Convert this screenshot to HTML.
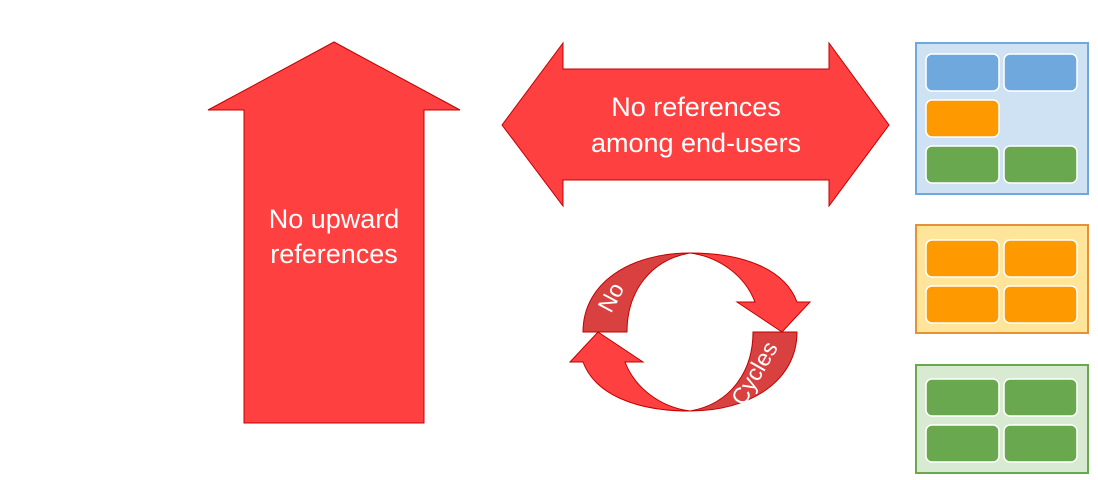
<!DOCTYPE html>
<html><head><style>body{margin:0;background:#fff}svg{display:block}text{font-family:"Liberation Sans",sans-serif;fill:#fff}</style></head>
<body>
<svg width="1098" height="480" viewBox="0 0 1098 480" xmlns="http://www.w3.org/2000/svg">
<polygon points="334,42 460,110 424,110 424,423 244,423 244,110 208,110" fill="#ff4040" stroke="#c00000" stroke-width="1"/>
<text x="334" y="228" font-size="27" text-anchor="middle">No upward</text>
<text x="334" y="263" font-size="27" text-anchor="middle">references</text>
<polygon points="502,125 563,43 563,69 829,69 829,43 889,125 829,206 829,180 563,180 563,206" fill="#ff4040" stroke="#c00000" stroke-width="1"/>
<text x="696" y="116" font-size="27" text-anchor="middle">No references</text>
<text x="696" y="152" font-size="27" text-anchor="middle">among end-users</text>
<g stroke="#c00000" stroke-width="1">
<path d="M690,253 C745,253 785,270 797,302 L810,302 L782,332 L737,302 L755,302 C745,276 720,257 690,253 Z" fill="#ff4040"/>
<path d="M583,332 C583,283 630,253 690,253 C650,260 627,292 627,332 Z" fill="#d94040"/>
<path d="M690,411 C635,411 595,394 583,362 L570,362 L598,332 L643,362 L625,362 C635,388 660,407 690,411 Z" fill="#ff4040"/>
<path d="M797,332 C797,381 750,411 690,411 C730,404 753,372 753,332 Z" fill="#d94040"/>
</g>
<text x="0" y="0" font-size="23" transform="translate(611,314) rotate(-62)">No</text>
<text x="0" y="0" font-size="23" transform="translate(744,407) rotate(-60)">Cycles</text>
<rect x="916" y="43" width="172" height="151" fill="#cfe2f3" stroke="#6fa8dc" stroke-width="2"/>
<g stroke="#fff" stroke-width="1.5">
<rect x="926" y="54" width="73" height="37" rx="6" fill="#6fa8dc"/>
<rect x="1004" y="54" width="73" height="37" rx="6" fill="#6fa8dc"/>
<rect x="926" y="100" width="73" height="37" rx="6" fill="#ff9900"/>
<rect x="926" y="146" width="73" height="37" rx="6" fill="#6aa84f"/>
<rect x="1004" y="146" width="73" height="37" rx="6" fill="#6aa84f"/>
</g>
<rect x="916" y="225" width="172" height="108" fill="#ffe599" stroke="#e69138" stroke-width="2"/>
<g stroke="#fff" stroke-width="1.5" fill="#ff9900">
<rect x="926" y="240" width="73" height="37" rx="6"/>
<rect x="1004" y="240" width="73" height="37" rx="6"/>
<rect x="926" y="286" width="73" height="37" rx="6"/>
<rect x="1004" y="286" width="73" height="37" rx="6"/>
</g>
<rect x="916" y="365" width="172" height="108" fill="#d9ead3" stroke="#6aa84f" stroke-width="2"/>
<g stroke="#fff" stroke-width="1.5" fill="#6aa84f">
<rect x="926" y="379" width="73" height="37" rx="6"/>
<rect x="1004" y="379" width="73" height="37" rx="6"/>
<rect x="926" y="425" width="73" height="37" rx="6"/>
<rect x="1004" y="425" width="73" height="37" rx="6"/>
</g>
</svg>
</body></html>
